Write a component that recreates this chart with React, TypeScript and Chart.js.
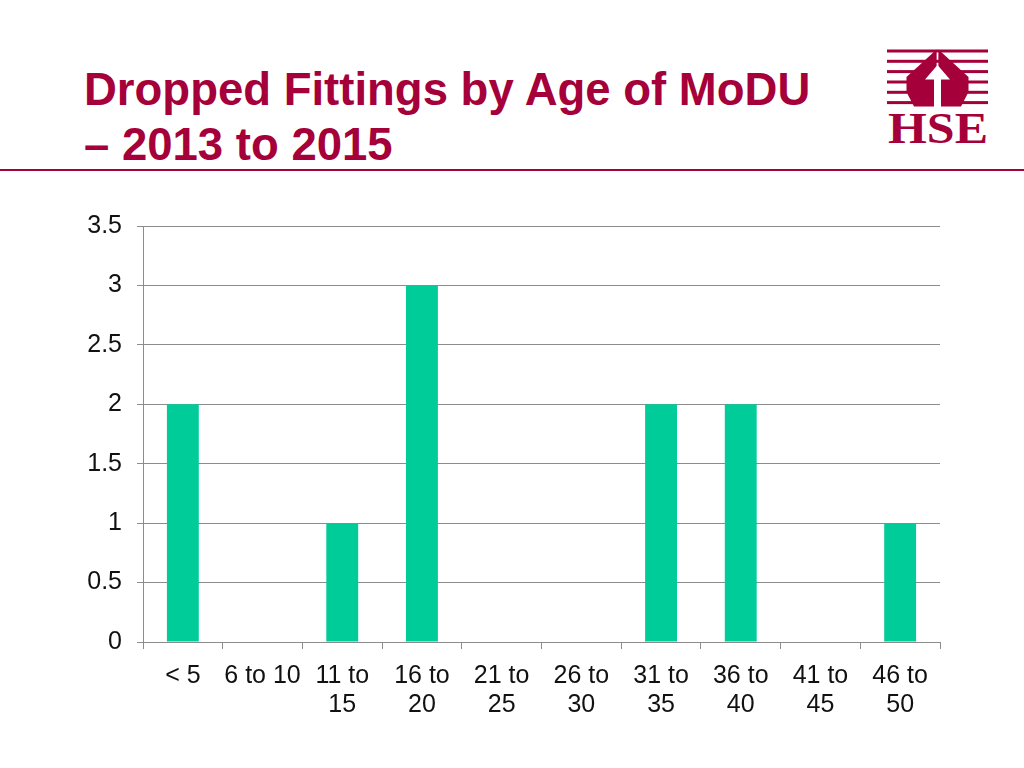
import React, { useEffect, useRef } from "react";
import { Chart, registerables } from "chart.js";

Chart.register(...registerables);

const categories: (string | string[])[] = [
  "< 5",
  "6 to 10",
  ["11 to", "15"],
  ["16 to", "20"],
  ["21 to", "25"],
  ["26 to", "30"],
  ["31 to", "35"],
  ["36 to", "40"],
  ["41 to", "45"],
  ["46 to", "50"],
];
const droppedFittings = [2, 0, 1, 3, 0, 0, 2, 2, 0, 1];
const yMin = 0;
const yMax = 3.5;
const yStep = 0.5;

const titleLines = ["Dropped Fittings by Age of MoDU", "\u2013 2013 to 2015"];

const MAROON = "#A6003A";
const FONT = "'Liberation Sans', Arial, Helvetica, sans-serif";

function HseLogo() {
  const stripes = [51, 61.3, 71.6, 82, 92.3, 102.6];
  return (
    <svg
      width={130}
      height={110}
      viewBox="880 44 130 110"
      style={{ position: "absolute", left: 880, top: 44 }}
    >
      {stripes.map((y, i) => (
        <rect key={i} x={887} y={y - 1.5} width={101} height={3} fill={MAROON} />
      ))}
      {/* house / hands shape */}
      <polygon points="936.6,49.5 906.5,77 906.5,92 914,106.5 936.6,106.5" fill={MAROON} />
      <polygon points="938.4,49.5 968.5,77 968.5,92 961,106.5 938.4,106.5" fill={MAROON} />
      {/* white arrow */}
      <polygon
        points="937.5,65 950,79.5 941,79.5 941,107 934,107 934,79.5 925,79.5"
        fill="#fff"
      />
      <text
        x={888}
        y={142.5}
        textLength={100}
        lengthAdjust="spacingAndGlyphs"
        fontFamily="'Liberation Serif', 'Times New Roman', serif"
        fontWeight="bold"
        fontSize={44}
        fill={MAROON}
      >
        HSE
      </text>
    </svg>
  );
}

export default function App() {
  const canvasRef = useRef<HTMLCanvasElement | null>(null);

  useEffect(() => {
    document.body.style.margin = "0";
    const canvas = canvasRef.current;
    if (!canvas) return;
    const chart = new Chart(canvas, {
      type: "bar",
      data: {
        labels: categories,
        datasets: [
          {
            label: "Dropped fittings",
            data: droppedFittings,
            backgroundColor: "#00CC99",
            borderWidth: 0,
            barPercentage: 0.4,
            categoryPercentage: 1,
          },
        ],
      },
      options: {
        animation: false,
        responsive: false,
        maintainAspectRatio: false,
        layout: { padding: { top: 36, right: 84, left: 0, bottom: 0 } },
        plugins: {
          legend: { display: false },
          tooltip: { enabled: false },
          title: { display: false },
        },
        scales: {
          x: {
            grid: {
              display: true,
              drawOnChartArea: false,
              drawTicks: true,
              tickLength: 7,
              color: "#8C8C8C",
              offset: true,
            },
            border: { color: "#8C8C8C", width: 1 },
            ticks: {
              color: "#111",
              font: { family: FONT, size: 25, lineHeight: 1.16 },
              padding: 13,
              maxRotation: 0,
              autoSkip: false,
            },
            afterFit: (scale: any) => {
              scale.height = 88;
            },
          },
          y: {
            min: yMin,
            max: yMax,
            grid: {
              color: "#8C8C8C",
              tickLength: 6,
              lineWidth: 1,
            },
            border: { color: "#8C8C8C", width: 1 },
            ticks: {
              stepSize: yStep,
              color: "#111",
              font: { family: FONT, size: 25 },
              padding: 15,
              callback: (v: any) => String(v),
            },
            afterFit: (scale: any) => {
              scale.width = 143;
            },
          },
        },
      },
    });
    return () => chart.destroy();
  }, []);

  return (
    <div
      style={{
        position: "absolute",
        left: 0,
        top: 0,
        width: 1024,
        height: 768,
        background: "#fff",
        overflow: "hidden",
      }}
    >
      <div
        style={{
          position: "absolute",
          left: 84,
          top: 62,
          fontFamily: FONT,
          fontWeight: "bold",
          fontSize: 45.5,
          lineHeight: "55px",
          color: MAROON,
          whiteSpace: "nowrap",
        }}
      >
        {titleLines.map((l, i) => (
          <div key={i}>{l}</div>
        ))}
      </div>
      <HseLogo />
      <div
        style={{
          position: "absolute",
          left: 0,
          top: 169,
          width: 1024,
          height: 2,
          background: MAROON,
        }}
      />
      <canvas
        ref={canvasRef}
        width={1024}
        height={540}
        style={{ position: "absolute", left: 0, top: 190, width: 1024, height: 540 }}
      />
    </div>
  );
}
